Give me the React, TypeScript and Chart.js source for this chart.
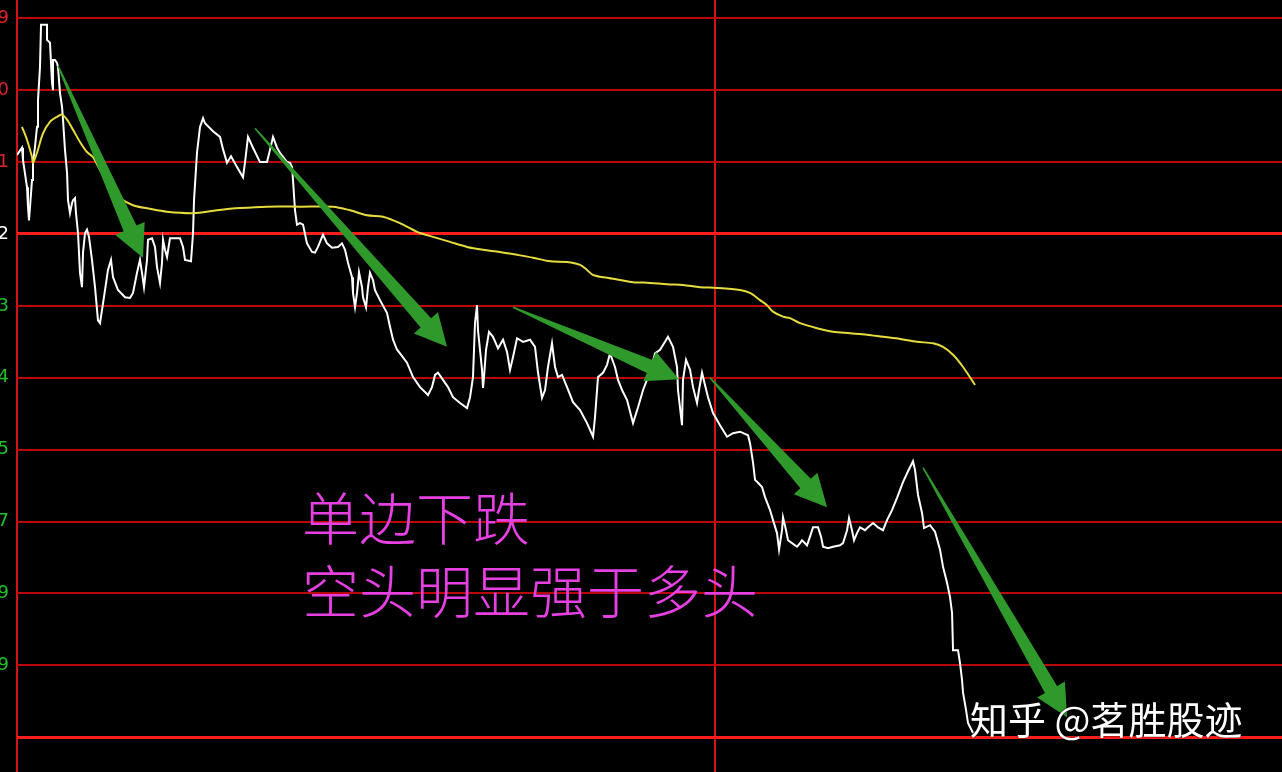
import { useEffect, useRef } from 'react';
import Chart, { type Plugin } from 'chart.js/auto';

// price line: minutes since the open, value in grid steps from the previous close
const PRICE_TIME: number[] = [
  0, 0.86, 1.03, 1.72, 1.89, 2.06, 2.58, 2.75, 3.09, 3.44,
  3.61, 3.95, 4.13, 5.16, 5.16, 5.67, 6.02, 6.19, 6.19, 6.53,
  6.88, 7.05, 7.39, 7.74, 7.91, 8.25, 8.60, 8.77, 9.11, 9.46,
  9.63, 9.97, 10.14, 10.49, 10.83, 11.17, 11.35, 11.69, 12.03, 12.38,
  12.89, 13.41, 13.92, 14.27, 14.61, 15.13, 15.64, 16.16, 16.50, 17.36,
  18.57, 19.43, 19.94, 20.63, 21.14, 21.49, 21.83, 22.35, 22.52, 23.21,
  23.72, 24.07, 24.58, 24.93, 25.10, 25.44, 25.79, 26.30, 28.02, 28.54,
  28.88, 29.91, 30.26, 30.43, 30.94, 31.46, 31.98, 32.32, 33.69, 34.90,
  35.41, 36.10, 36.79, 37.82, 38.85, 39.20, 39.71, 40.57, 41.77, 42.98,
  43.49, 44.01, 44.70, 45.21, 46.42, 46.93, 47.28, 47.45, 47.79, 48.13,
  48.65, 49.17, 49.85, 50.71, 51.23, 51.74, 52.60, 53.29, 54.15, 55.18,
  55.87, 56.39, 56.90, 57.59, 57.76, 58.11, 58.45, 58.79, 59.31, 59.48,
  60.00, 60.34, 60.68, 61.20, 61.54, 62.40, 63.61, 64.12, 64.64, 65.33,
  65.84, 67.04, 68.08, 69.28, 70.66, 71.34, 71.86, 72.37, 73.23, 74.09,
  74.95, 76.16, 77.36, 77.88, 78.39, 78.73, 79.08, 79.25, 79.59, 79.94,
  80.11, 80.28, 80.63, 81.14, 81.83, 82.69, 83.55, 84.24, 84.75, 85.27,
  85.96, 86.99, 88.19, 89.05, 89.57, 90.25, 90.77, 91.28, 91.97, 92.49,
  93.00, 93.69, 94.55, 95.58, 96.79, 97.99, 99.02, 99.36, 99.88, 100.74,
  101.43, 101.94, 102.80, 103.32, 104.01, 104.87, 105.90, 106.76, 107.62, 108.48,
  109.16, 109.68, 110.54, 111.40, 111.91, 112.77, 113.46, 113.63, 113.98, 114.32,
  114.49, 115.01, 115.70, 116.21, 116.90, 117.24, 117.76, 118.27, 118.79, 119.65,
  120.85, 122.06, 123.09, 124.29, 125.67, 126.01, 126.53, 126.87, 127.39, 128.07,
  128.59, 129.45, 129.96, 130.65, 131.00, 131.51, 131.68, 132.20, 132.54, 133.23,
  134.09, 134.61, 134.95, 135.81, 136.32, 136.84, 137.70, 138.22, 138.56, 139.42,
  140.28, 141.48, 142.00, 142.69, 143.03, 143.54, 143.89, 144.40, 144.92, 145.78,
  146.30, 147.16, 148.01, 148.87, 149.56, 150.42, 151.28, 152.31, 153.17, 154.03,
  154.37, 154.89, 155.58, 155.92, 156.95, 157.81, 158.67, 159.19, 159.88, 160.39,
  160.74, 160.91, 161.77, 162.11, 162.45, 162.63, 163.14, 163.48, 164.35,
];
const PRICE: number[] = [
  1.10, 1.20, 1.03, 0.65, 0.38, 0.19, 0.75, 0.99, 1.21, 1.49,
  1.86, 2.32, 2.91, 2.91, 2.70, 2.66, 2.10, 2.00, 2.42, 2.42,
  2.38, 2.32, 1.96, 1.77, 1.59, 1.17, 0.85, 0.47, 0.29, 0.43,
  0.47, 0.50, 0.29, 0.01, -0.54, -0.74, -0.26, 0.01, 0.06, -0.04,
  -0.36, -0.74, -1.20, -1.24, -1.06, -0.78, -0.50, -0.36, -0.60, -0.78,
  -0.88, -0.89, -0.82, -0.54, -0.36, -0.54, -0.74, -0.36, -0.08, -0.06,
  -0.18, -0.46, -0.68, -0.40, -0.08, -0.22, -0.32, -0.06, -0.06, -0.18,
  -0.36, -0.38, 0.01, 0.47, 1.13, 1.49, 1.61, 1.54, 1.43, 1.35,
  1.18, 0.99, 1.08, 0.93, 0.79, 1.00, 1.35, 1.20, 1.00, 1.00,
  1.17, 1.35, 1.20, 1.13, 1.00, 0.99, 0.93, 0.75, 0.33, 0.13,
  0.15, 0.13, -0.13, -0.25, -0.26, -0.18, -0.01, -0.13, -0.19, -0.18,
  -0.13, -0.22, -0.40, -0.60, -0.82, -1.02, -0.82, -0.53, -0.74, -0.88,
  -1.02, -0.74, -0.54, -0.64, -0.78, -0.92, -1.10, -1.29, -1.47, -1.61,
  -1.66, -1.79, -1.99, -2.13, -2.24, -2.13, -1.96, -1.93, -2.03, -2.13,
  -2.27, -2.35, -2.42, -2.27, -1.99, -1.24, -0.99, -1.34, -1.61, -1.89,
  -2.14, -1.99, -1.61, -1.36, -1.43, -1.59, -1.47, -1.64, -1.89, -1.71,
  -1.45, -1.50, -1.47, -1.57, -1.93, -2.28, -2.17, -1.85, -1.52, -1.85,
  -1.99, -1.96, -2.13, -2.34, -2.45, -2.63, -2.82, -2.55, -1.99, -1.93,
  -1.82, -1.66, -1.85, -2.03, -2.17, -2.31, -2.63, -2.41, -2.17, -1.99,
  -1.82, -1.66, -1.61, -1.50, -1.43, -1.57, -1.85, -2.17, -2.42, -2.66,
  -2.03, -1.75, -1.89, -2.13, -2.35, -2.17, -1.93, -2.10, -2.27, -2.49,
  -2.66, -2.82, -2.77, -2.75, -2.80, -2.91, -3.18, -3.42, -3.46, -3.52,
  -3.66, -3.84, -3.98, -4.16, -4.39, -4.12, -3.94, -4.12, -4.26, -4.30,
  -4.35, -4.30, -4.26, -4.33, -4.21, -4.08, -4.08, -4.21, -4.35, -4.37,
  -4.35, -4.33, -4.30, -4.12, -3.95, -4.12, -4.26, -4.16, -4.08, -4.12,
  -4.08, -4.02, -4.08, -4.12, -3.98, -3.84, -3.67, -3.45, -3.30, -3.16,
  -3.28, -3.63, -3.88, -4.09, -4.05, -4.14, -4.39, -4.63, -4.85, -5.05,
  -5.27, -5.79, -5.79, -5.97, -6.20, -6.38, -6.62, -6.80, -6.94,
];

// average price line, same units
const AVG_TIME: number[] = [
  0.86, 1.72, 2.58, 2.75, 3.44, 4.47, 5.67, 6.88, 7.74, 8.60,
  9.63, 10.83, 12.03, 13.07, 14.27, 15.99, 17.71, 19.94, 22.86, 25.79,
  30.26, 34.38, 38.34, 42.98, 48.65, 54.32, 57.25, 60.17, 62.92, 65.84,
  68.76, 71.51, 74.44, 77.36, 80.11, 83.03, 85.96, 88.71, 91.63, 94.55,
  96.79, 97.99, 99.02, 101.43, 103.66, 105.90, 108.82, 111.74, 114.49, 117.41,
  120.34, 124.29, 126.01, 127.73, 128.93, 129.96, 131.68, 132.89, 134.61, 137.53,
  140.28, 143.20, 146.12, 148.87, 151.80, 154.72, 157.47, 159.19, 160.91, 162.63, 164.69,
];
const AVG: number[] = [
  1.49, 1.31, 1.07, 0.99, 1.13, 1.40, 1.56, 1.63, 1.66, 1.59,
  1.45, 1.28, 1.14, 1.07, 0.89, 0.65, 0.50, 0.40, 0.35, 0.31,
  0.29, 0.33, 0.36, 0.38, 0.38, 0.38, 0.33, 0.26, 0.24, 0.15,
  0.03, -0.04, -0.11, -0.18, -0.22, -0.25, -0.29, -0.33, -0.38, -0.39,
  -0.43, -0.50, -0.57, -0.61, -0.64, -0.67, -0.68, -0.70, -0.71, -0.74,
  -0.75, -0.78, -0.82, -0.92, -0.99, -1.08, -1.15, -1.17, -1.24, -1.31,
  -1.36, -1.38, -1.40, -1.43, -1.46, -1.50, -1.52, -1.57, -1.68, -1.85, -2.10,
];

// horizontal grid steps and the digits that show at the cut-off left edge
const GRID_STEPS: number[] = [-7, -6, -5, -4, -3, -2, -1, 0, 1, 2, 3];
const GRID_LABELS: string[] = ['', '9', '9', '7', '5', '4', '3', '2', '1', '0', '9'];
// vertical lines: the open and the midday break
const TIME_LINES: number[] = [0, 120];

// green arrows drawn over the chart
const ARROW_FROM_TIME: number[] = [7.05, 40.91, 85.27, 119.13, 155.75];
const ARROW_FROM_VALUE: number[] = [2.34, 1.47, -1.02, -2.0, -3.25];
const ARROW_TO_TIME: number[] = [21.66, 73.92, 113.8, 139.25, 180.51];
const ARROW_TO_VALUE: number[] = [-0.33, -1.57, -2.02, -3.8, -6.72];

const arrowPlugin: Plugin<'line'> = {
  id: 'arrows',
  afterDatasetsDraw(chart) {
    const { ctx, scales } = chart;
    ctx.save();
    ARROW_FROM_TIME.forEach((_, i) => {
      const x0 = scales.x.getPixelForValue(ARROW_FROM_TIME[i]);
      const y0 = scales.y.getPixelForValue(ARROW_FROM_VALUE[i]);
      const x1 = scales.x.getPixelForValue(ARROW_TO_TIME[i]);
      const y1 = scales.y.getPixelForValue(ARROW_TO_VALUE[i]);
      const len = Math.hypot(x1 - x0, y1 - y0);
      const ux = (x1 - x0) / len;
      const uy = (y1 - y0) / len;
      const nx = -uy;
      const ny = ux;
      const headLen = 32;
      const headHalf = 16;
      const shaftHalf = 7;
      const bx = x1 - ux * headLen;
      const by = y1 - uy * headLen;
      ctx.beginPath();
      ctx.moveTo(x0 + nx * 0.8, y0 + ny * 0.8);
      ctx.lineTo(bx + nx * shaftHalf, by + ny * shaftHalf);
      ctx.lineTo(bx + nx * headHalf, by + ny * headHalf);
      ctx.lineTo(x1, y1);
      ctx.lineTo(bx - nx * headHalf, by - ny * headHalf);
      ctx.lineTo(bx - nx * shaftHalf, by - ny * shaftHalf);
      ctx.lineTo(x0 - nx * 0.8, y0 - ny * 0.8);
      ctx.closePath();
      ctx.fillStyle = '#2f9a2b';
      ctx.fill();
    });
    ctx.restore();
  },
};

export default function App() {
  const canvasRef = useRef<HTMLCanvasElement>(null);

  useEffect(() => {
    if (!canvasRef.current) return;

    const chart = new Chart(canvasRef.current, {
      type: 'line',
      data: {
        datasets: [
          {
            label: '均价',
            data: AVG_TIME.map((t, i) => ({ x: t, y: AVG[i] })),
            borderColor: '#e6dc3c',
            borderWidth: 2,
            pointRadius: 0,
            tension: 0.3,
            fill: false,
          },
          {
            label: '价格',
            data: PRICE_TIME.map((t, i) => ({ x: t, y: PRICE[i] })),
            borderColor: '#ffffff',
            borderWidth: 2,
            pointRadius: 0,
            tension: 0,
            fill: false,
          },
        ],
      },
      options: {
        animation: false,
        responsive: false,
        layout: { padding: 0 },
        plugins: {
          legend: { display: false },
          tooltip: { enabled: false },
        },
        scales: {
          x: {
            type: 'linear',
            min: 0,
            max: 217.46,
            afterBuildTicks: (scale) => {
              scale.ticks = TIME_LINES.map((v) => ({ value: v }));
            },
            afterFit: (scale) => {
              scale.height = 0;
              scale.paddingLeft = 0;
              scale.paddingRight = 0;
            },
            ticks: { display: false },
            border: { display: false },
            grid: { color: '#d41414', lineWidth: 2, drawTicks: false },
          },
          y: {
            type: 'linear',
            min: -7.483,
            max: 3.2545,
            afterBuildTicks: (scale) => {
              scale.ticks = GRID_STEPS.map((v) => ({ value: v }));
            },
            afterFit: (scale) => {
              scale.width = 17;
              scale.paddingTop = 0;
              scale.paddingBottom = 0;
            },
            border: { display: false },
            ticks: {
              padding: 8,
              font: { family: 'DejaVu Sans', size: 18 },
              color: (c) => {
                const v = c.tick.value;
                if (v > 0) return '#e02424';
                if (v === 0) return '#ffffff';
                return '#22c02a';
              },
              callback: (value) => GRID_LABELS[GRID_STEPS.indexOf(Number(value))] ?? '',
            },
            grid: {
              drawTicks: false,
              color: (c) => (c.tick.value === 0 || c.tick.value === -7 ? '#ff1e1e' : '#b80808'),
              lineWidth: (c) => (c.tick.value === 0 || c.tick.value === -7 ? 3 : 2),
            },
          },
        },
      },
      plugins: [arrowPlugin],
    });

    return () => {
      chart.destroy();
    };
  }, []);

  const noteStyle = {
    position: 'absolute' as const,
    left: 302,
    margin: 0,
    fontFamily: '"Noto Sans CJK SC", sans-serif',
    fontWeight: 300,
    fontSize: 57,
    lineHeight: 1,
    color: '#e640e3',
    whiteSpace: 'nowrap' as const,
  };

  return (
    <div style={{ position: 'fixed', left: 0, top: 0, width: 1282, height: 772, background: '#000', overflow: 'hidden' }}>
      <canvas ref={canvasRef} width={1282} height={772} style={{ position: 'absolute', left: 0, top: 0 }} />
      <div style={{ ...noteStyle, top: 487 }}>单边下跌</div>
      <div style={{ ...noteStyle, top: 560 }}>空头明显强于多头</div>
      <div
        style={{
          position: 'absolute',
          left: 970,
          top: 699,
          fontFamily: '"Noto Sans CJK SC", sans-serif',
          fontSize: 38,
          lineHeight: 1,
          color: '#ffffff',
          textShadow: '0 0 2px #000',
          whiteSpace: 'nowrap',
        }}
      >
        知乎 @茗胜股迹
      </div>
    </div>
  );
}
